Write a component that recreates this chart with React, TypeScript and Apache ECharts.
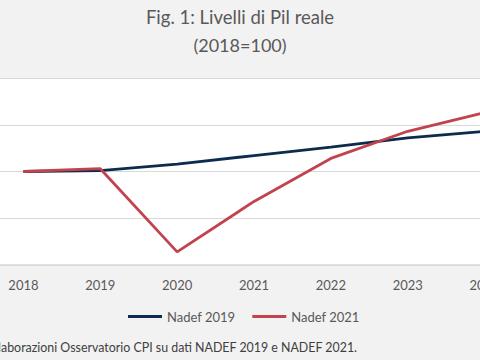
import React, { useEffect, useRef } from "react";
import * as echarts from "echarts";

const years = ["2018", "2019", "2020", "2021", "2022", "2023", "2024"];
const nadef2019 = [100, 100.1, 100.8, 101.7, 102.6, 103.6, 104.3];
const nadef2021 = [100, 100.3, 91.4, 96.8, 101.4, 104.3, 106.3];
const titleText = "Fig. 1: Livelli di Pil reale";
const subtitleText = "(2018=100)";
const sourceText = "Elaborazioni Osservatorio CPI su dati NADEF 2019 e NADEF 2021.";

const FONT = "Lato, 'Open Sans', sans-serif";
const OFF = 15; // chart canvas starts 15px left of the page (the reference is cropped)

export default function App() {
  const ref = useRef<HTMLDivElement>(null);
  useEffect(() => {
    if (!ref.current) return;
    const chart = echarts.init(ref.current, undefined, { renderer: "svg" });
    chart.setOption({
      animation: false,
      backgroundColor: "#f2f2f2",
      textStyle: { fontFamily: FONT },
      graphic: [
        {
          type: "text",
          x: 240 + OFF,
          y: 17,
          style: {
            text: titleText,
            fontSize: 18.5,
            fontFamily: FONT,
            fill: "#595959",
            textAlign: "center",
            textVerticalAlign: "middle",
          },
        },
        {
          type: "text",
          x: 240 + OFF,
          y: 45,
          style: {
            text: subtitleText,
            fontSize: 18,
            fontFamily: FONT,
            fill: "#595959",
            textAlign: "center",
            textVerticalAlign: "middle",
          },
        },
        {
          type: "text",
          x: 357 + OFF,
          y: 347,
          style: {
            text: sourceText,
            fontSize: 12.4,
            fontFamily: FONT,
            fill: "#404040",
            textAlign: "right",
            textVerticalAlign: "middle",
          },
        },
      ],
      legend: {
        left: 123 + OFF,
        top: 305,
        icon: "rect",
        itemWidth: 34,
        itemHeight: 3,
        itemGap: 17,
        textStyle: { color: "#595959", fontSize: 13, fontFamily: FONT },
        data: ["Nadef 2019", "Nadef 2021"],
      },
      grid: {
        show: true,
        backgroundColor: "#ffffff",
        borderWidth: 0,
        left: 0,
        right: 0,
        top: 78,
        bottom: 95,
      },
      xAxis: {
        type: "category",
        data: years,
        boundaryGap: true,
        axisTick: { show: false },
        axisLine: { lineStyle: { color: "#d9d9d9", width: 1.5 } },
        axisLabel: { color: "#595959", fontSize: 13, margin: 13, fontFamily: FONT },
      },
      yAxis: {
        type: "value",
        min: 90,
        max: 110,
        interval: 5,
        axisLabel: { show: false },
        axisLine: { show: false },
        axisTick: { show: false },
        splitLine: { lineStyle: { color: "#d9d9d9", width: 1 } },
      },
      series: [
        {
          name: "Nadef 2019",
          type: "line",
          data: nadef2019,
          showSymbol: false,
          lineStyle: { color: "#0d2c4d", width: 2.8 },
          itemStyle: { color: "#0d2c4d" },
        },
        {
          name: "Nadef 2021",
          type: "line",
          data: nadef2021,
          showSymbol: false,
          lineStyle: { color: "#c0434e", width: 2.8 },
          itemStyle: { color: "#c0434e" },
        },
      ],
    });
    return () => chart.dispose();
  }, []);
  return (
    <div
      ref={ref}
      style={{ position: "fixed", left: -OFF, top: 0, width: 538, height: 360 }}
    />
  );
}
